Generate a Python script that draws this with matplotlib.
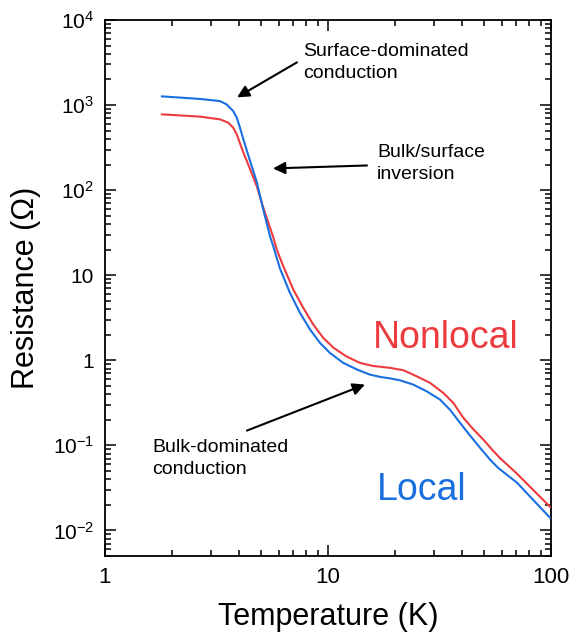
"""
Resistance vs temperature (log-log): local vs nonlocal configuration.
"""

import matplotlib
matplotlib.use("Agg")
import matplotlib.pyplot as plt
from matplotlib.ticker import FixedLocator, LogLocator, NullFormatter

plt.rcParams["font.family"] = ["Liberation Sans", "DejaVu Sans"]
plt.rcParams["mathtext.fontset"] = "custom"
plt.rcParams["mathtext.rm"] = "Liberation Sans"
plt.rcParams["mathtext.it"] = "Liberation Sans:italic"
plt.rcParams["mathtext.bf"] = "Liberation Sans:bold"

# --- data --------------------------------------------------------------------
T_local = [1.80, 2.67, 3.28, 3.51, 3.76, 3.90, 4.03, 4.17, 4.32, 4.47, 4.80,
           5.11, 5.49, 5.68, 6.09, 6.75, 7.49, 8.31, 9.21, 10.2, 11.7, 13.5,
           15.4, 17.1, 19.0, 21.0, 24.1, 27.7, 31.8, 35.2, 39.1, 43.4, 48.0,
           53.3, 58.0, 70.4, 83.0, 99.0]
R_local = [1265, 1180, 1114, 1019, 849, 711, 542, 400, 295, 222, 123,
           61.0, 29.0, 22.0, 12.0, 6.21, 3.61, 2.30, 1.60, 1.22, 0.932, 0.778,
           0.679, 0.638, 0.612, 0.582, 0.518, 0.432, 0.345, 0.263, 0.184,
           0.130, 0.0940, 0.0679, 0.0542, 0.0364, 0.0230, 0.0141]

T_nonlocal = [1.80, 2.67, 3.28, 3.57, 3.76, 3.90, 4.03, 4.17, 4.32, 4.47,
              4.80, 5.11, 5.67, 5.89, 6.30, 6.99, 7.75, 8.59, 9.53, 10.6,
              12.1, 13.9, 16.0, 17.1, 19.0, 21.8, 25.0, 28.7, 32.9, 36.5,
              40.4, 44.8, 49.7, 55.1, 59.0, 70.4, 83.0, 99.0]
R_nonlocal = [778, 731, 679, 621, 542, 452, 355, 278, 222, 177,
              110, 64.0, 28.5, 20.1, 12.8, 6.79, 4.13, 2.63, 1.83, 1.40,
              1.11, 0.932, 0.855, 0.840, 0.814, 0.763, 0.648, 0.542, 0.413,
              0.315, 0.212, 0.155, 0.117, 0.0860, 0.0711, 0.0464, 0.0301,
              0.0190]

ytick_vals = [1e-2, 1e-1, 1, 10, 1e2, 1e3, 1e4]
ytick_labels = [r"$10^{-2}$", r"$10^{-1}$", "1", "10",
                r"$10^{2}$", r"$10^{3}$", r"$10^{4}$"]
xtick_vals = [1, 10, 100]
xtick_labels = ["1", "10", "100"]

RED = "#ec3b3e"
BLUE = "#1a6fe0"

fig = plt.figure(figsize=(5.79, 6.35), dpi=100)
ax = fig.add_axes([0.1813, 0.1244, 0.7703, 0.8441])

ax.plot(T_nonlocal, R_nonlocal, color=RED, lw=1.5, zorder=3)
ax.plot(T_local, R_local, color=BLUE, lw=1.5, zorder=4)

ax.set_xscale("log")
ax.set_yscale("log")
ax.set_xlim(1, 100)
ax.set_ylim(0.005, 1e4)

ax.xaxis.set_major_locator(FixedLocator(xtick_vals))
ax.set_xticklabels(xtick_labels, fontsize=16)
ax.yaxis.set_major_locator(FixedLocator(ytick_vals))
ax.set_yticklabels(ytick_labels, fontsize=15)
ax.xaxis.set_minor_locator(LogLocator(base=10, subs=range(2, 10)))
ax.yaxis.set_minor_locator(LogLocator(base=10, subs=range(2, 10)))
ax.xaxis.set_minor_formatter(NullFormatter())
ax.yaxis.set_minor_formatter(NullFormatter())

ax.tick_params(which="both", direction="in", top=True, right=True, width=1.1)
ax.tick_params(which="major", length=8, pad=8)
ax.tick_params(which="minor", length=4)
for s in ax.spines.values():
    s.set_linewidth(1.3)

ax.set_xlabel("Temperature (K)", fontsize=22, labelpad=10)
ax.set_ylabel("Resistance (\u03a9)", fontsize=22, labelpad=8)

arrow_kw = dict(arrowstyle="-|>", color="black", lw=1.5, mutation_scale=18,
                shrinkA=0, shrinkB=0)

ax.annotate("", xy=(3.91, 1233), xytext=(7.26, 3178), arrowprops=arrow_kw)
ax.text(7.73, 3135, "Surface-dominated\nconduction", fontsize=14,
        ha="left", va="center", linespacing=1.4)

ax.annotate("", xy=(5.67, 180), xytext=(14.96, 195), arrowprops=arrow_kw)
ax.text(16.6, 206, "Bulk/surface\ninversion", fontsize=14,
        ha="left", va="center", linespacing=1.4)

ax.annotate("", xy=(14.65, 0.518), xytext=(4.33, 0.149), arrowprops=arrow_kw)
ax.text(1.625, 0.0698, "Bulk-dominated\nconduction", fontsize=14,
        ha="left", va="center", linespacing=1.4)

ax.text(15.9, 1.85, "Nonlocal", color=RED, fontsize=27, ha="left",
        va="center")
ax.text(16.6, 0.030, "Local", color=BLUE, fontsize=27, ha="left",
        va="center")

fig.savefig("out.png", dpi=100)
